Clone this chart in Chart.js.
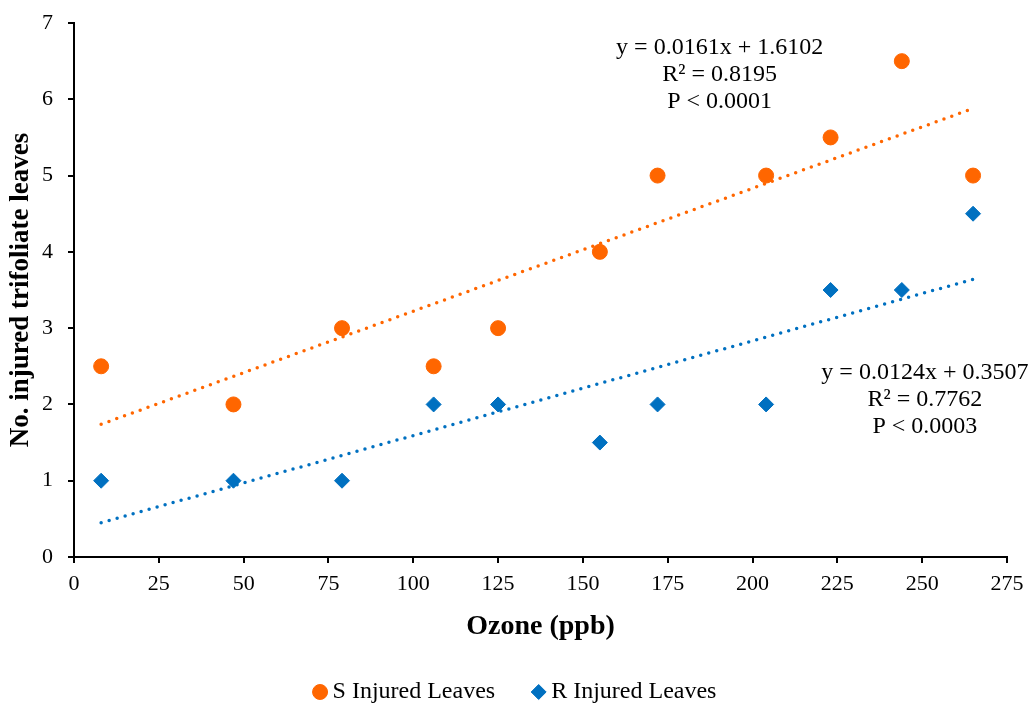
<!DOCTYPE html>
<html><head><meta charset="utf-8">
<script src="https://cdn.jsdelivr.net/npm/chart.js@4/dist/chart.umd.min.js"></script>
<style>html,body{margin:0;padding:0;background:#fff}#wrap{width:1030px;height:704px;position:relative}</style>
</head><body><div id="wrap"><canvas id="c"></canvas></div>
<script>
const ozone = [8, 47, 79, 106, 125, 155, 172, 204, 223, 244, 265];
const sLeaves = [2.5, 2, 3, 2.5, 3, 4, 5, 5, 5.5, 6.5, 5];
const rLeaves = [1, 1, 1, 2, 2, 1.5, 2, 2, 3.5, 3.5, 4.5];
const trendX = [8, 265];
const sTrend = [1.74, 5.88];
const rTrend = [0.45, 3.64];
const xTicks = [0, 25, 50, 75, 100, 125, 150, 175, 200, 225, 250, 275];
const yTicks = [0, 1, 2, 3, 4, 5, 6, 7];
const sText = ['y = 0.0161x + 1.6102', 'R² = 0.8195', 'P < 0.0001'];
const rText = ['y = 0.0124x + 0.3507', 'R² = 0.7762', 'P < 0.0003'];
const seriesNames = ['S Injured Leaves', 'R Injured Leaves'];

const FONT = '"Liberation Serif", "Times New Roman", serif';
const ORANGE = '#FF6600';
const BLUE = '#0070C0';

const pts = (xs, ys) => xs.map((x, i) => ({x: x, y: ys[i]}));

const annot = {
  id: 'annot',
  afterDatasetsDraw(chart) {
    const ctx = chart.ctx, xs = chart.scales.x, ys = chart.scales.y;
    ctx.save();
    ctx.font = '24px ' + FONT;
    ctx.fillStyle = '#000';
    ctx.textAlign = 'center';
    ctx.textBaseline = 'middle';
    const draw = (lines, xv, yv) => {
      const px = xs.getPixelForValue(xv), py = ys.getPixelForValue(yv);
      lines.forEach((t, i) => ctx.fillText(t, px, py + i * 27));
    };
    draw(sText, 190.3, 6.67);
    draw(rText, 250.8, 2.41);
    ctx.restore();
  }
};

const legendShift = {
  id: 'legendShift',
  afterLayout(chart) {
    if (chart.legend) { chart.legend.left += 12; chart.legend.right += 12; }
  }
};

new Chart(document.getElementById('c'), {
  type: 'scatter',
  data: {
    datasets: [
      {label: 'S trend', data: pts(trendX, sTrend), showLine: true, borderColor: ORANGE,
       borderWidth: 3.5, borderDash: [0, 8.3], borderCapStyle: 'round', pointRadius: 0, fill: false},
      {label: 'R trend', data: pts(trendX, rTrend), showLine: true, borderColor: BLUE,
       borderWidth: 3.5, borderDash: [0, 8.3], borderCapStyle: 'round', pointRadius: 0, fill: false},
      {label: seriesNames[0], data: pts(ozone, sLeaves), pointStyle: 'circle', pointRadius: 7.5,
       backgroundColor: ORANGE, borderColor: ORANGE, borderWidth: 1},
      {label: seriesNames[1], data: pts(ozone, rLeaves), pointStyle: 'rectRot', pointRadius: 7.5,
       backgroundColor: BLUE, borderColor: BLUE, borderWidth: 1}
    ]
  },
  options: {
    responsive: true,
    maintainAspectRatio: false,
    animation: false,
    layout: {padding: {left: 5, right: 23, top: 23, bottom: -10}},
    plugins: {
      tooltip: {enabled: false},
      legend: {
        position: 'bottom',
        labels: {
          usePointStyle: true,
          boxHeight: 10.6,
          boxWidth: 1,
          padding: 43,
          color: '#000',
          font: {size: 24, family: FONT},
          filter: (item) => item.datasetIndex >= 2
        }
      }
    },
    scales: {
      x: {
        type: 'linear', min: 0, max: 275,
        afterBuildTicks: (s) => { s.ticks = xTicks.map(v => ({value: v})); },
        afterFit: (s) => { s.height = 80; s.paddingLeft = 0; s.paddingRight = 0; },
        grid: {drawOnChartArea: false, drawTicks: true, tickLength: 6, color: '#000', lineWidth: 2},
        border: {color: '#000', width: 2},
        ticks: {color: '#000', font: {size: 22, family: FONT}, padding: 8, maxRotation: 0},
        title: {display: true, text: 'Ozone (ppb)', color: '#000', font: {size: 28, weight: 'bold', family: FONT}, padding: {top: 0, bottom: -7}}
      },
      y: {
        type: 'linear', min: 0, max: 7,
        afterBuildTicks: (s) => { s.ticks = yTicks.map(v => ({value: v})); },
        afterFit: (s) => { s.width = 69; s.paddingTop = 0; s.paddingBottom = 0; },
        grid: {drawOnChartArea: false, drawTicks: true, tickLength: 6, color: '#000', lineWidth: 2},
        border: {color: '#000', width: 2},
        ticks: {color: '#000', font: {size: 22, family: FONT}, padding: 15},
        title: {display: true, text: 'No. injured trifoliate leaves', color: '#000', font: {size: 27, weight: 'bold', family: FONT}, padding: {top: 0, bottom: 0}}
      }
    }
  },
  plugins: [annot, legendShift]
});
</script></body></html>
